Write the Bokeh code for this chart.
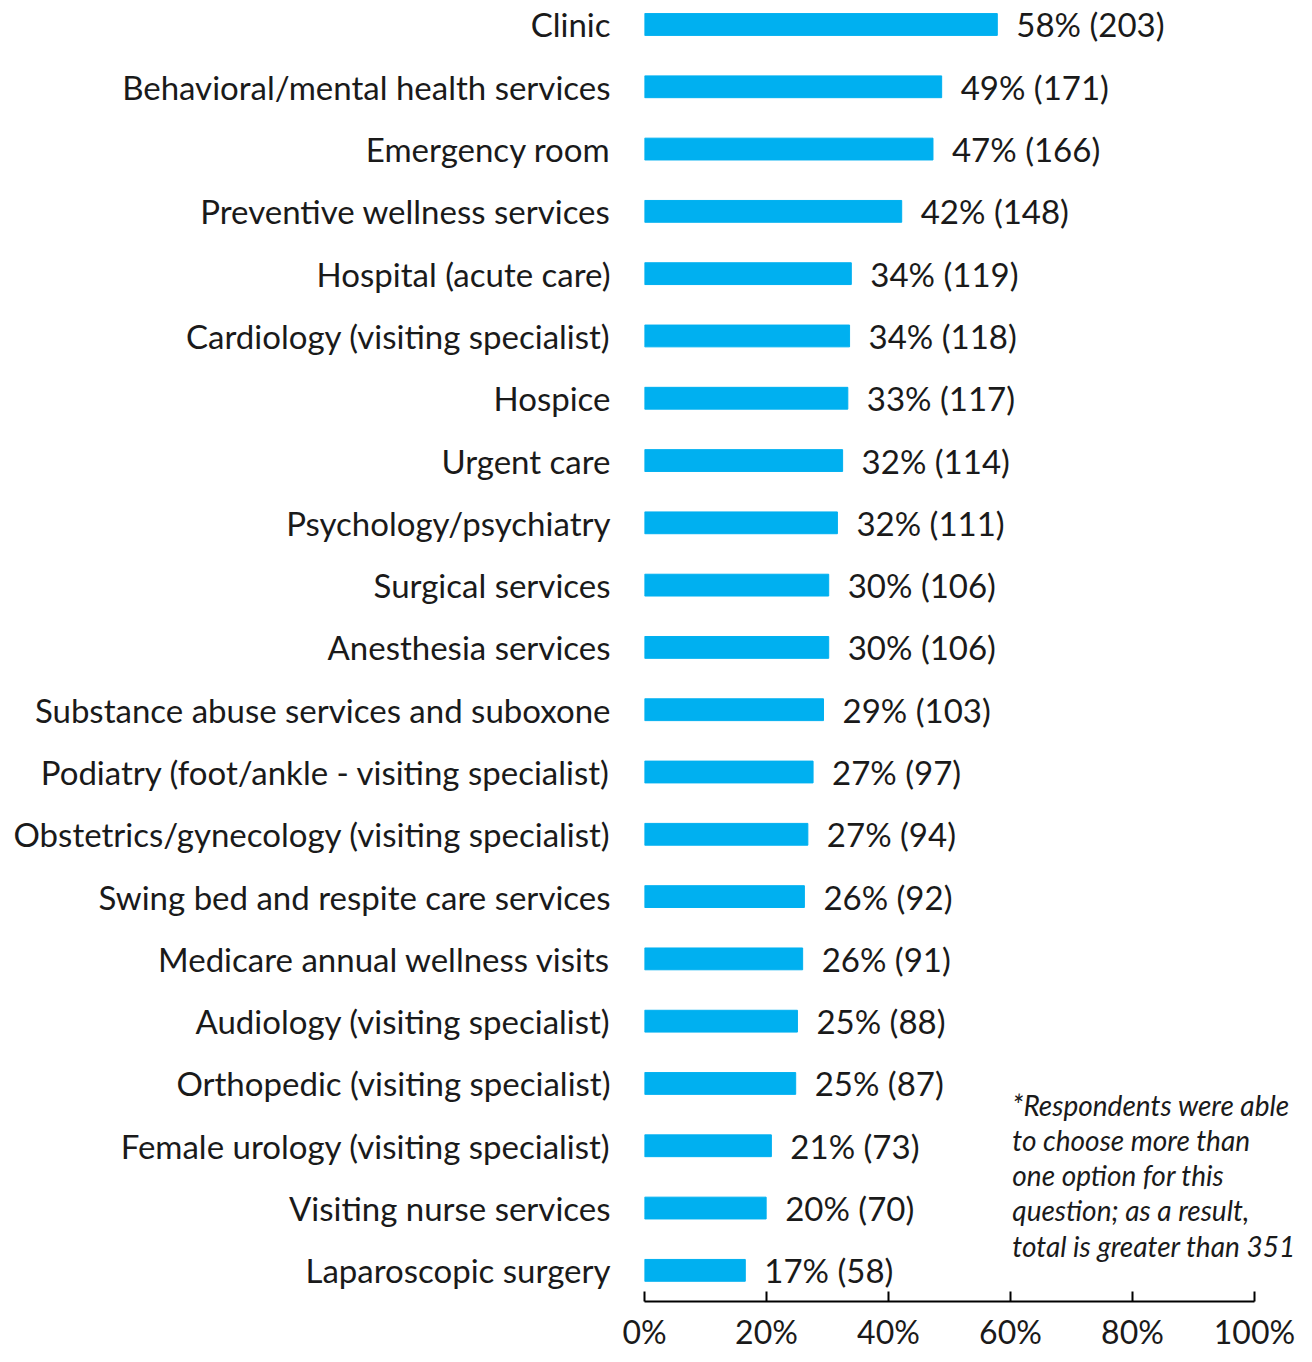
from bokeh.plotting import figure
from bokeh.models import Range1d, FixedTicker, PrintfTickFormatter, ColumnDataSource
from bokeh.embed import file_html
from bokeh.resources import INLINE
from bokeh.core.properties import value

categories = [
    "Clinic",
    "Behavioral/mental health services",
    "Emergency room",
    "Preventive wellness services",
    "Hospital (acute care)",
    "Cardiology (visiting specialist)",
    "Hospice",
    "Urgent care",
    "Psychology/psychiatry",
    "Surgical services",
    "Anesthesia services",
    "Substance abuse services and suboxone",
    "Podiatry (foot/ankle - visiting specialist)",
    "Obstetrics/gynecology (visiting specialist)",
    "Swing bed and respite care services",
    "Medicare annual wellness visits",
    "Audiology (visiting specialist)",
    "Orthopedic (visiting specialist)",
    "Female urology (visiting specialist)",
    "Visiting nurse services",
    "Laparoscopic surgery",
]
percents = [58, 49, 47, 42, 34, 34, 33, 32, 32, 30, 30, 29, 27, 27, 26, 26, 25, 25, 21, 20, 17]
counts = [203, 171, 166, 148, 119, 118, 117, 114, 111, 106, 106, 103, 97, 94, 92, 91, 88, 87, 73, 70, 58]
total_respondents = 351
x_ticks = [0, 20, 40, 60, 80, 100]
note_lines = [
    "*Respondents were able",
    "to choose more than",
    "one option for this",
    "question; as a result,",
    "total is greater than 351",
]

FONT = "Lato"
TXT = "#1a1a1a"

n = len(categories)
ypos = [n - 1 - i for i in range(n)]
share = [c / total_respondents * 100 for c in counts]
labels = [f"{p}% ({c})" for p, c in zip(percents, counts)]

src = ColumnDataSource(dict(y=ypos, share=share, label=labels, cat=categories))

Y_END = n - 1 + 0.385
X_END = 108.2
p = figure(width=1304, height=1354,
           x_range=Range1d(0, X_END), y_range=Range1d(-0.5, Y_END),
           output_backend="svg", toolbar_location=None,
           min_border_left=644, min_border_right=0,
           min_border_top=0, min_border_bottom=53)
p.outline_line_color = None
p.xgrid.visible = False
p.ygrid.visible = False
p.background_fill_color = "white"
p.border_fill_color = "white"

p.hbar(y="y", left=0, right="share", height=0.35, color="#00B0F0", source=src)
p.text(x="share", y="y", text="label", x_offset=19, text_baseline="middle",
       text_align="left", text_font=value(FONT), text_font_size="33px",
       text_color=TXT, source=src)

# y axis
p.yaxis.ticker = FixedTicker(ticks=ypos)
p.yaxis.major_label_overrides = {y: c for y, c in zip(ypos, categories)}
p.yaxis.axis_line_color = None
p.yaxis.major_tick_line_color = None
p.yaxis.minor_tick_line_color = None
p.yaxis.major_label_standoff = 28
p.yaxis.major_label_text_font = FONT
p.yaxis.major_label_text_font_size = "33px"
p.yaxis.major_label_text_color = TXT

# x axis
p.xaxis.ticker = FixedTicker(ticks=x_ticks)
p.xaxis.bounds = (0, 100)
p.xaxis.formatter = PrintfTickFormatter(format="%d%%")
p.xaxis.axis_line_color = "black"
p.xaxis.axis_line_width = 2
p.xaxis.major_tick_line_color = "black"
p.xaxis.major_tick_line_width = 2
p.xaxis.major_tick_in = 10
p.xaxis.major_tick_out = 0
p.xaxis.minor_tick_line_color = None
p.xaxis.major_label_standoff = 10
p.xaxis.major_label_text_font = FONT
p.xaxis.major_label_text_font_size = "32px"
p.xaxis.major_label_text_color = TXT

# footnote
px_per_unit = 1301 / (Y_END + 0.5)
note_y = [Y_END - (1104 + k * 35.3) / px_per_unit for k in range(len(note_lines))]
note_x = [60.3] * len(note_lines)
p.text(x=note_x, y=note_y, text=note_lines, text_font=value(FONT),
       text_font_style="italic", text_font_size="28px", text_color=TXT,
       text_baseline="middle", text_align="left")

open("out.html", "w").write(file_html(p, INLINE))
